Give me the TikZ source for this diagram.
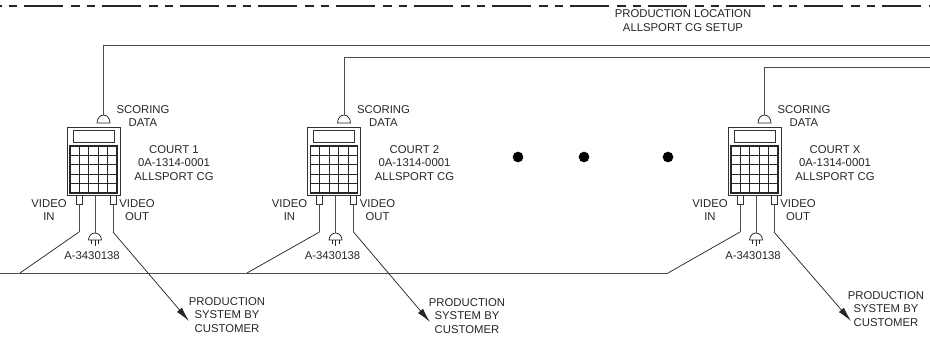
\documentclass[tikz,border=0pt]{standalone}
\usepackage{fontspec}
\setmainfont{Liberation Sans}
\usetikzlibrary{arrows.meta}
\begin{document}
\begin{tikzpicture}[
        x=0.75pt, y=-0.75pt,
        wire/.style={draw=black!85, line width=0.55pt},
        heavy/.style={draw=black!70, line width=0.75pt},
        lbl/.style={align=center, inner sep=0pt, text=black!85, font=\fontsize{8.5}{10.1}\selectfont},
        casebox/.style={rectangle, draw=black!80, fill=white, line width=0.7pt, inner sep=0pt, minimum width=39.75pt, minimum height=51pt},
        dispbox/.style={rectangle, draw=black!80, line width=0.55pt, inner sep=0pt, minimum width=30.75pt, minimum height=9pt},
        sockbox/.style={rectangle, draw=black!80, fill=white, line width=0.55pt, inner sep=0pt, minimum width=4.5pt, minimum height=6.75pt},
        dot/.style={circle, fill=black, inner sep=0pt, minimum size=8pt},
        court/.pic={
            \node[casebox] (-case) at (23.5,15) {};
            \node[dispbox] (-disp) at (23.5,-10) {};
            \draw[wire, line width=0.65pt, step=7.05pt] (0,0) grid (47.01,47.01);
            \draw[wire, line width=0.85pt] (0,0) rectangle (47,47);
            \node[sockbox] (-in) at (9,53.5) {};
            \node[sockbox] (-out) at (43,53.5) {};
            % scoring data connector
            \coordinate (-dome) at (33.5,-31);
            \draw[wire] (27,-23) arc[start angle=180, end angle=360, x radius=6.5, y radius=8] -- cycle;
            \node[lbl] (-score) at (73,-30) {SCORING\\DATA};
            \node[lbl] (-title) at (104,17) {\tikzpictext\\0A-1314-0001\\ALLSPORT CG};
            % video legs
            \coordinate (-inend) at (9,86);
            \coordinate (-outend) at (43,86);
            \draw[heavy] (-in.south) -- (-inend);
            \draw[heavy] (-out.south) -- (-outend);
            \node[lbl] (-vin) at (-21,64) {VIDEO\\IN};
            \node[lbl] (-vout) at (67,64) {VIDEO\\OUT};
            % power plug
            \coordinate (-plug) at (25,87);
            \draw[heavy] (-case.south -| -plug) -- (-plug);
            \draw[wire] (18.5,94) arc[start angle=180, end angle=360, x radius=6.5, y radius=7] -- cycle;
            \draw[wire] (21.5,94) -- (21.5,98) (25,94) -- (25,100) (28.5,94) -- (28.5,98);
            \node[lbl] (-part) at (22,110) {A-3430138};
        }
    ]
        \useasboundingbox (0,0) rectangle (930,343);

        % Location boundary
        \coordinate (bl) at (0,6);
        \coordinate (br) at (930,6);
        \draw[wire, line width=0.8pt, dash pattern=on 29.25pt off 6pt on 6.5pt off 5.25pt on 6.25pt off 5.25pt, dash phase=40.5pt] (bl) -- (br);
        \node[lbl] (loc) at (683,20.5) {PRODUCTION LOCATION\\ALLSPORT CG SETUP};

        % Courts
        \pic (c1) at (70,146) [pic text={COURT 1}] {court};
        \pic (c2) at (310.5,146) [pic text={COURT 2}] {court};
        \pic (c3) at (731,146) [pic text={COURT X}] {court};

        % Scoring data lines
        \coordinate (s1) at (930,45);
        \coordinate (s2) at (930,57);
        \coordinate (s3) at (930,67);
        \draw[heavy] (c1-dome) |- (s1);
        \draw[heavy] (c2-dome) |- (s2);
        \draw[heavy] (c3-dome) |- (s3);

        % Dots
        \node[dot] (d1) at (518,157) {};
        \node[dot] (d2) at (584,157) {};
        \node[dot] (d3) at (668,157) {};

        % Video bus
        \coordinate (b0) at (0,273);
        \coordinate (b1) at (20,273);
        \coordinate (b2) at (247,273);
        \coordinate (b3) at (668,273);
        \draw[heavy] (b0) -- (b3);
        \draw[wire] (c1-inend) -- (b1);
        \draw[wire] (c2-inend) -- (b2);
        \draw[wire] (c3-inend) -- (b3);

        % Video out
        \node[lbl] (p1) at (227,315) {PRODUCTION\\SYSTEM BY\\CUSTOMER};
        \node[lbl] (p2) at (467,316) {PRODUCTION\\SYSTEM BY\\CUSTOMER};
        \node[lbl] (p3) at (886,309) {PRODUCTION\\SYSTEM BY\\CUSTOMER};
        \coordinate (t1) at (189,321);
        \coordinate (t2) at (430,322);
        \coordinate (t3) at (851,321);
        \draw[wire, -{Latex[length=11pt, width=5pt]}] (c1-outend) -- (t1);
        \draw[wire, -{Latex[length=11pt, width=5pt]}] (c2-outend) -- (t2);
        \draw[wire, -{Latex[length=11pt, width=5pt]}] (c3-outend) -- (t3);
    \end{tikzpicture}
\end{document}
